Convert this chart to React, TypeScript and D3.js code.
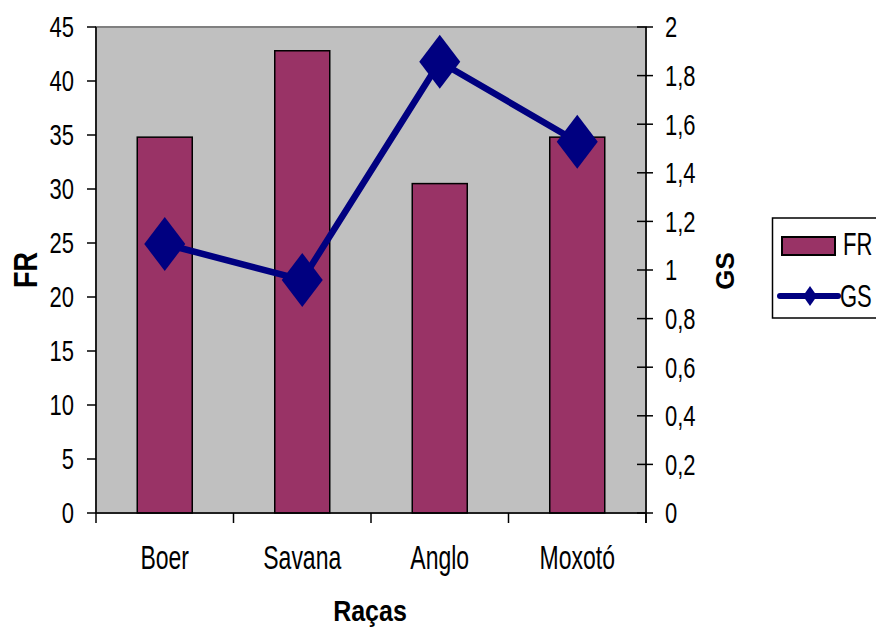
import React from "react";
import * as d3 from "d3";

const categories = ["Boer", "Savana", "Anglo", "Moxotó"];
const frValues = [34.8, 42.8, 30.5, 34.8];
const gsValues = [1.107, 0.959, 1.857, 1.528];
const leftTicks = [0, 5, 10, 15, 20, 25, 30, 35, 40, 45];
const rightTicks = [0, 0.2, 0.4, 0.6, 0.8, 1, 1.2, 1.4, 1.6, 1.8, 2];

const FONT = "'Liberation Sans', Arial, sans-serif";
const BAR = "#993366";
const LINE = "#000080";

function T(props: {
  x: number; y: number; anchor?: string; size: number; weight?: string;
  sy?: number; rot?: number; children: React.ReactNode;
}) {
  const { x, y, anchor = "start", size, weight = "normal", sy = 1, rot = 0, children } = props;
  return (
    <g transform={`translate(${x},${y}) rotate(${rot}) scale(1,${sy})`}>
      <text x={0} y={0} textAnchor={anchor} fontSize={size} fontWeight={weight}
        fontFamily={FONT} fill="#000">{children}</text>
    </g>
  );
}

export default function App() {
  const L = 96, R = 646, TOP = 27, BOT = 513;
  const x = d3.scaleBand<string>().domain(categories).range([L, R]).padding(0);
  const yL = d3.scaleLinear().domain([0, 45]).range([BOT, TOP]);
  const yR = d3.scaleLinear().domain([0, 2]).range([BOT, TOP]);
  const bw = x.bandwidth() * 0.4;
  const line = d3.line<number>()
    .x((_, i) => (x(categories[i]) as number) + x.bandwidth() / 2)
    .y((d) => yR(d));
  const fmt = (v: number) => String(Math.round(v * 10) / 10).replace(".", ",");
  const tickSize = 22, tickSY = 1.33;
  const capOff = (tickSize * 0.716 * tickSY) / 2;
  const dW = 20.5, dH = 27;
  const diamond = (cx: number, cy: number, w: number, h: number) =>
    `M${cx},${cy - h}L${cx + w},${cy}L${cx},${cy + h}L${cx - w},${cy}Z`;

  return (
    <svg width={876} height={628} style={{ position: "absolute", left: 0, top: 0, background: "#fff" }}>
      <rect x={L} y={TOP} width={R - L} height={BOT - TOP} fill="#C0C0C0" stroke="#808080" strokeWidth={2} />
      {frValues.map((v, i) => {
        const cx = (x(categories[i]) as number) + x.bandwidth() / 2;
        return (
          <rect key={i} x={cx - bw / 2} y={yL(v)} width={bw} height={BOT - yL(v)}
            fill={BAR} stroke="#000" strokeWidth={1.5} />
        );
      })}
      {/* axes */}
      <line x1={L} y1={TOP} x2={L} y2={BOT + 10} stroke="#000" strokeWidth={1.5} />
      <line x1={R} y1={TOP} x2={R} y2={BOT + 10} stroke="#000" strokeWidth={1.5} />
      <line x1={L} y1={BOT} x2={R} y2={BOT} stroke="#000" strokeWidth={1.5} />
      {categories.map((c, i) => (
        <line key={c} x1={(x(c) as number) + x.bandwidth()} y1={BOT} x2={(x(c) as number) + x.bandwidth()} y2={BOT + 10}
          stroke="#000" strokeWidth={1.5} />
      ))}
      {leftTicks.map((t) => (
        <g key={"l" + t}>
          <line x1={L - 9} y1={yL(t)} x2={L} y2={yL(t)} stroke="#000" strokeWidth={1.5} />
          <T x={74} y={yL(t) + capOff} anchor="end" size={tickSize} sy={tickSY}>{String(t)}</T>
        </g>
      ))}
      {rightTicks.map((t) => (
        <g key={"r" + t}>
          <line x1={R - 9} y1={yR(t)} x2={R + 7} y2={yR(t)} stroke="#000" strokeWidth={1.5} />
          <T x={665} y={yR(t) + capOff} anchor="start" size={tickSize} sy={tickSY}>{fmt(t)}</T>
        </g>
      ))}
      {/* line series */}
      <path d={line(gsValues) as string} fill="none" stroke={LINE} strokeWidth={6.5} strokeLinejoin="round" />
      {gsValues.map((v, i) => {
        const cx = (x(categories[i]) as number) + x.bandwidth() / 2;
        return <path key={i} d={diamond(cx, yR(v), dW, dH)} fill={LINE} />;
      })}
      {/* category labels */}
      {categories.map((c) => (
        <T key={c} x={(x(c) as number) + x.bandwidth() / 2} y={569} anchor="middle" size={23} sy={1.45}>{c}</T>
      ))}
      {/* axis titles */}
      <T x={370} y={621} anchor="middle" size={25} weight="bold" sy={1.17}>Raças</T>
      <T x={37} y={270} anchor="middle" size={27} weight="bold" sy={1.25} rot={-90}>FR</T>
      <T x={734} y={271} anchor="middle" size={26} weight="bold" rot={-90}>GS</T>
      {/* legend */}
      <rect x={772.5} y={218} width={200} height={100} fill="#fff" stroke="#000" strokeWidth={1.5} />
      <rect x={782} y={237} width={53} height={18} fill={BAR} stroke="#000" strokeWidth={2} />
      <T x={843} y={255} size={22} sy={1.4}>FR</T>
      <line x1={780} y1={296} x2={838} y2={296} stroke={LINE} strokeWidth={6} strokeLinecap="round" />
      <path d={diamond(810, 296, 7, 10)} fill={LINE} />
      <T x={840} y={307} size={22} sy={1.4}>GS</T>
    </svg>
  );
}
